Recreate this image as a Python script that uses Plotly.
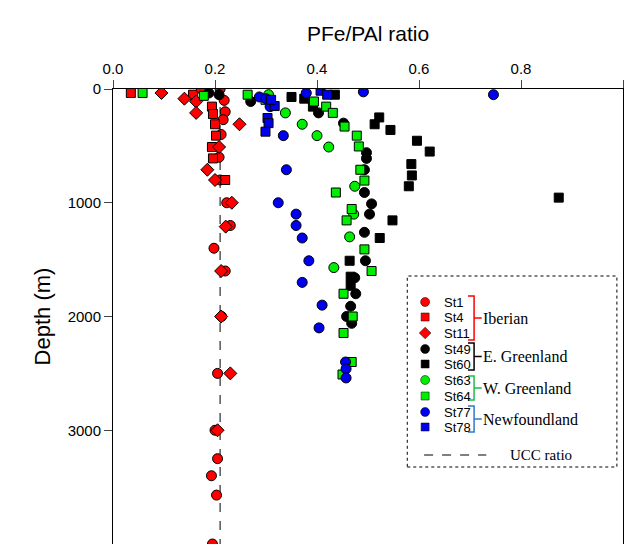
import plotly.graph_objects as go

ucc_ratio = 0.21
st1_x = [0.21,0.218,0.22,0.216,0.212,0.208,0.21,0.223,0.23,0.198,0.22,0.213,0.205,0.2,0.205,0.193,0.203,0.195]
st1_y = [0,100,200,270,400,600,800,1000,1200,1400,1600,2000,2500,3000,3250,3400,3570,4000]
st4_x = [0.035,0.157,0.194,0.196,0.2,0.202,0.194,0.196,0.22]
st4_y = [35,50,155,220,310,410,510,610,800]
st11_x = [0.095,0.14,0.163,0.163,0.175,0.248,0.208,0.185,0.2,0.233,0.221,0.212,0.212,0.23,0.205]
st11_y = [35,85,110,210,10,310,510,710,800,1000,1210,1600,2000,2500,3000]
st49_x = [0.188,0.208,0.27,0.403,0.452,0.497,0.497,0.493,0.493,0.507,0.503,0.493,0.495,0.474,0.476,0.466,0.458,0.468]
st49_y = [35,50,110,210,300,560,610,710,910,1010,1100,1260,1510,1660,1800,1910,2000,2060]
st60_x = [0.35,0.375,0.392,0.435,0.522,0.513,0.544,0.596,0.621,0.585,0.586,0.58,0.874,0.548,0.523,0.464,0.466,0.466]
st60_y = [70,85,155,50,250,310,360,455,550,660,760,855,955,1155,1310,1510,1650,1730]
st63_x = [0.305,0.338,0.371,0.4,0.423,0.474,0.472,0.464,0.433]
st63_y = [50,210,310,410,510,855,1100,1300,1570]
st64_x = [0.058,0.178,0.264,0.299,0.394,0.418,0.431,0.454,0.478,0.482,0.485,0.493,0.437,0.468,0.458,0.493,0.507,0.452,0.47,0.452,0.468,0.45]
st64_y = [35,60,50,95,110,155,210,330,410,505,710,805,910,1055,1155,1410,1600,1800,2000,2145,2400,2510]
st77_x = [0.491,0.746,0.379,0.287,0.3,0.308,0.334,0.34,0.324,0.359,0.359,0.371,0.384,0.371,0.41,0.404,0.456,0.457,0.457]
st77_y = [25,50,35,70,85,155,410,710,1000,1100,1200,1310,1510,1700,1900,2100,2400,2460,2540]
st78_x = [0.407,0.42,0.317,0.303,0.305,0.299,0.31]
st78_y = [15,50,150,255,300,375,95]

series = [
    ("St1", st1_x, st1_y, "red", "circle"),
    ("St4", st4_x, st4_y, "red", "square"),
    ("St11", st11_x, st11_y, "red", "diamond"),
    ("St49", st49_x, st49_y, "black", "circle"),
    ("St60", st60_x, st60_y, "black", "square"),
    ("St63", st63_x, st63_y, "#00ee00", "circle"),
    ("St64", st64_x, st64_y, "#00ee00", "square"),
    ("St77", st77_x, st77_y, "#0000ee", "circle"),
    ("St78", st78_x, st78_y, "#0000ee", "square"),
]
legend_rows_px = [302, 317, 333, 349, 364, 380, 396, 412, 427]

def fy(px):
    return 1 - (px - 89) / 455

fig = go.Figure()
fig.add_trace(go.Scatter(x=[ucc_ratio, ucc_ratio], y=[0, 4000], mode="lines",
                         line=dict(color="black", width=1, dash="dash"), showlegend=False))
for (name, xs, ys, col, sym), rp in zip(series, legend_rows_px):
    mk = dict(color=col, symbol=sym, size=10 if sym != "square" else 9, line=dict(color="black", width=1))
    fig.add_trace(go.Scatter(x=xs, y=ys, mode="markers", name=name, marker=mk, showlegend=False))
    mk2 = dict(mk, size=mk["size"] - 1, line=dict(width=0.5, color="black"))
    fig.add_trace(go.Scatter(x=[0.612], y=[fy(rp)], mode="markers", marker=mk2, xaxis="x2", yaxis="y2",
                             showlegend=False, hoverinfo="skip"))
    fig.add_annotation(xref="paper", yref="paper", x=0.645, y=fy(rp), text=name, showarrow=False,
                       xanchor="left", yanchor="middle", font=dict(size=13))

fig.update_layout(
    width=623, height=536, plot_bgcolor="white", paper_bgcolor="white",
    margin=dict(l=105, r=8, t=81, b=0),
    font=dict(family="Liberation Sans", color="black"),
    showlegend=False,
    xaxis=dict(side="top", range=[0, 1], dtick=0.2, tickformat=".1f", ticks="outside", ticklen=8,
               showline=True, linecolor="black", mirror=True, showgrid=False, zeroline=False,
               tickfont=dict(size=15), title=dict(text="PFe/PAl ratio", font=dict(size=21), standoff=12)),
    yaxis=dict(range=[4000, 0], dtick=1000, ticks="outside", ticklen=8,
               showline=True, linecolor="black", mirror=True, showgrid=False, zeroline=False,
               tickfont=dict(size=15), title=dict(text="Depth (m)", font=dict(size=22), standoff=10)),
    xaxis2=dict(overlaying="x", range=[0, 1], visible=False),
    yaxis2=dict(overlaying="y", range=[0, 1], visible=False),
)
fig.add_shape(type="rect", xref="paper", yref="paper", x0=0.577, x1=0.988, y0=fy(467), y1=fy(276),
              line=dict(color="black", width=1, dash="dot"))
fig.add_shape(type="line", xref="paper", yref="paper", x0=0.61, x1=0.732, y0=fy(455), y1=fy(455),
              line=dict(color="black", width=1, dash="dash"))
fig.add_annotation(xref="paper", yref="paper", x=0.775, y=fy(455), text="UCC ratio", showarrow=False,
                   xanchor="left", yanchor="middle", font=dict(family="Liberation Serif", size=15))
groups = [("Iberian", 296, 340, "red"), ("E. Greenland", 343, 370, "black"),
          ("W. Greenland", 376, 400, "#22bb44"), ("Newfoundland", 406, 432, "#3377cc")]
for label, ptop, pbot, col in groups:
    bx = 0.708
    ytop, ybot = fy(ptop), fy(pbot)
    ym = (ytop + ybot) / 2
    fig.add_shape(type="path", xref="paper", yref="paper",
                  path=f"M {bx-0.012} {ytop} L {bx} {ytop} L {bx} {ybot} L {bx-0.012} {ybot} M {bx} {ym} L {bx+0.015} {ym}",
                  line=dict(color=col, width=1.5))
    fig.add_annotation(xref="paper", yref="paper", x=bx + 0.013, y=ym, text=label,
                       showarrow=False, xanchor="left", yanchor="middle", font=dict(family="Liberation Serif", size=16))
fig.write_html("out.html")
